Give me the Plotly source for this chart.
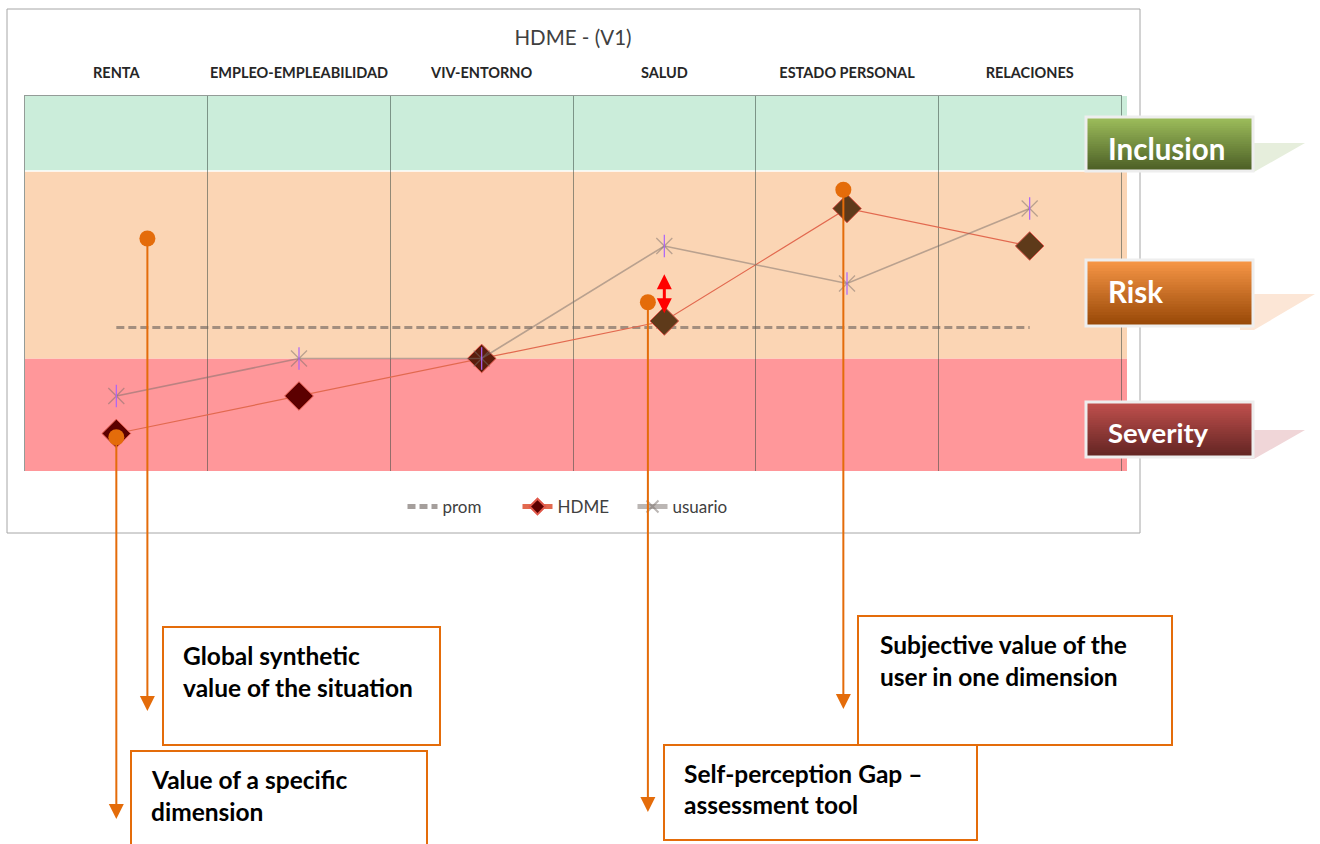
import plotly.graph_objects as go

# ---------------- data ----------------
categories = ["RENTA", "EMPLEO-EMPLEABILIDAD", "VIV-ENTORNO", "SALUD",
              "ESTADO PERSONAL", "RELACIONES"]
hdme = [10, 20, 30, 40, 70, 60]
usuario = [20, 30, 30, 60, 50, 70]
prom = [38.3] * 6

# zone limits on the 0-100 scale
zone_names = ["Severity", "Risk", "Inclusion"]
zone_low = [0, 30, 80]
zone_high = [30, 80, 100]

# callout pointers: (category position, score)
pointer_x = [0.17, 0.0, 2.91, 3.98]
pointer_y = [62, 9, 45, 75]

# self-perception gap arrow at SALUD
gap_x = 3
gap_top = 52.5
gap_bottom = 42.1

# ---------------- layout geometry (pixels) ----------------
W, H = 1320, 844
L, T, PW, PH = 25, 96, 1096, 375
X_RANGE = [-0.5, 5.5]
Y_RANGE = [0, 100]
UX = PW / (X_RANGE[1] - X_RANGE[0])   # pixels per category step
UY = PH / (Y_RANGE[1] - Y_RANGE[0])   # pixels per score unit


def px(x):
    return (x - L) / PW


def py(y):
    return (T + PH - y) / PH


def mix(c1, c2, t):
    a = [int(c1[i:i + 2], 16) for i in (1, 3, 5)]
    b = [int(c2[i:i + 2], 16) for i in (1, 3, 5)]
    return "rgb(%d,%d,%d)" % tuple(round(a[k] + (b[k] - a[k]) * t) for k in range(3))


ORANGE = "#e46c0a"
GRID = "rgba(60,75,68,0.55)"
STAR = "rgba(140,70,135,0.7)"
zone_colors = ["#ff979a", "#fbd5b4", "#cbedda"]
marker_fill = ["#5c0000", "#5c0000", "#5a1c0c", "#5e3a1a", "#5e3a1a", "#5e3a1a"]

fig = go.Figure()

fig.add_trace(go.Scatter(
    x=list(range(len(categories))), y=prom, name="prom", mode="lines",
    line=dict(color="rgba(105,95,90,0.6)", width=3, dash="8px,4px")))

fig.add_trace(go.Scatter(
    x=list(range(len(categories))), y=hdme, name="HDME", mode="lines+markers",
    line=dict(color="#e2694f", width=1.2),
    marker=dict(symbol="diamond", size=22, color=marker_fill,
                line=dict(color="#e0584a", width=1))))

fig.add_trace(go.Scatter(
    x=list(range(len(categories))), y=usuario, name="usuario", mode="lines+markers",
    legendgroup="usuario",
    line=dict(color="rgba(120,110,105,0.5)", width=1.6),
    marker=dict(symbol="x-thin-open", size=16, line=dict(color=STAR, width=1.2))))
fig.add_trace(go.Scatter(
    x=list(range(len(categories))), y=usuario, mode="markers", showlegend=False,
    legendgroup="usuario", hoverinfo="skip",
    marker=dict(symbol="line-ns-open", size=16, line=dict(color=STAR, width=1.2))))

# orange callout pointers
fig.add_trace(go.Scatter(
    x=pointer_x, y=pointer_y, mode="markers", showlegend=False, hoverinfo="skip",
    marker=dict(size=16, color=ORANGE)))

shapes = []
# outer chart frame
shapes.append(dict(type="rect", xref="paper", yref="paper", layer="below",
                   x0=px(7), x1=px(1140), y0=py(533), y1=py(9),
                   line=dict(color="#a6a6a6", width=1), fillcolor="rgba(0,0,0,0)"))
# zone bands
for lo, hi, col in zip(zone_low, zone_high, zone_colors):
    shapes.append(dict(type="rect", xref="paper", yref="y", layer="below",
                       x0=0, x1=px(1127), y0=lo, y1=hi,
                       line=dict(width=0), fillcolor=col))
shapes.append(dict(type="line", xref="paper", yref="y", layer="below",
                   x0=0, x1=px(1127), y0=zone_low[2], y1=zone_low[2],
                   line=dict(color="white", width=1.5)))

# red double-headed gap arrow (heads 15 px, drawn in data units)
hw = 7.5 / UX
hh = 15 / UY
shapes.append(dict(type="line", xref="x", yref="y", layer="above",
                   x0=gap_x, x1=gap_x, y0=gap_bottom + hh - 1 / UY, y1=gap_top - hh + 1 / UY,
                   line=dict(color="#ff0000", width=3)))
for tip, base in ((gap_top, gap_top - hh), (gap_bottom, gap_bottom + hh)):
    shapes.append(dict(type="path", xref="x", yref="y", layer="above",
                       path="M %f,%f L %f,%f L %f,%f Z" % (gap_x, tip, gap_x - hw, base,
                                                           gap_x + hw, base),
                       fillcolor="#ff0000", line=dict(width=0)))

# zone badges on the right
badges = [
    ("Inclusion", (1086, 117, 1253, 171), "#9dbd5b", "#4c5f26", "#e6eedc",
     [(1240, 143), (1305, 143), (1254, 172), (1240, 172)], 29.5, 148),
    ("Risk", (1086, 260, 1253, 326), "#f79646", "#984807", "#fce6d6",
     [(1240, 294), (1315, 294), (1254, 330), (1240, 330)], 29.5, 291),
    ("Severity", (1086, 402, 1253, 457), "#c0504d", "#632523", "#f0d6d8",
     [(1240, 430), (1305, 430), (1254, 459), (1240, 459)], 27.5, 432),
]
annotations = []
for label, (bx0, by0, bx1, by1), c_top, c_bot, c_sh, pts, fs, ty in badges:
    path = "M " + " L ".join("%f,%f" % (px(a), py(b)) for a, b in pts) + " Z"
    shapes.append(dict(type="path", xref="paper", yref="paper", path=path,
                       fillcolor=c_sh, line=dict(width=0), layer="above"))
    n = 24
    step = (by1 - by0) / n
    for k in range(n):
        # each strip runs to the bottom edge so consecutive strips overlap without seams
        shapes.append(dict(type="rect", xref="paper", yref="paper", layer="above",
                           x0=px(bx0), x1=px(bx1),
                           y0=py(by1), y1=py(by0 + k * step),
                           line=dict(width=0), fillcolor=mix(c_top, c_bot, k / (n - 1))))
    shapes.append(dict(type="rect", xref="paper", yref="paper", layer="above",
                       x0=px(bx0), x1=px(bx1), y0=py(by1), y1=py(by0),
                       line=dict(color="#eeeeee", width=3), fillcolor="rgba(0,0,0,0)"))
    annotations.append(dict(xref="paper", yref="paper", x=px(1106), y=py(ty),
                            xanchor="left", yanchor="middle", showarrow=False,
                            text=label,
                            font=dict(family="Lato", size=fs, color="white", weight="bold")))

# callout boxes and texts
boxes = [(163, 627, 440, 745), (131, 751, 427, 852),
         (858, 616, 1172, 745), (664, 745, 977, 840)]
for bx0, by0, bx1, by1 in boxes:
    shapes.append(dict(type="rect", xref="paper", yref="paper", layer="above",
                       x0=px(bx0), x1=px(bx1), y0=py(by1), y1=py(by0),
                       line=dict(color=ORANGE, width=2), fillcolor="white"))

callout_lines = [
    ("Global synthetic", 181, 655), ("value of the situation", 181, 687),
    ("Value of a specific", 149, 779), ("dimension", 149, 811),
    ("Subjective value of the", 878, 644), ("user in one dimension", 878, 676),
    ("Self-perception Gap \u2013", 682, 773), ("assessment tool", 682, 804),
]
for txt, tx, ty in callout_lines:
    annotations.append(dict(xref="paper", yref="paper", x=px(tx), y=py(ty),
                            xanchor="left", yanchor="middle", showarrow=False,
                            text=txt,
                            font=dict(family="Lato", size=24.5, color="black", weight="bold")))

# vertical pointer arrows
arrow_tips = [714, 822, 815, 712]
for xv, yv, tip in zip(pointer_x, pointer_y, arrow_tips):
    dot_px = T + PH - (yv - Y_RANGE[0]) * UY
    annotations.append(dict(xref="x", yref="paper", x=xv, y=py(tip - 3),
                            ax=0, ay=-(tip - 3 - dot_px), text="", showarrow=True,
                            arrowhead=2, arrowsize=1.5, arrowwidth=2, arrowcolor=ORANGE))

fig.update_layout(
    width=W, height=H,
    margin=dict(l=L, r=W - L - PW, t=T, b=H - T - PH),
    paper_bgcolor="white", plot_bgcolor="rgba(0,0,0,0)",
    font=dict(family="Lato", color="#404040"),
    title=dict(text="HDME - (V1)", xref="container", yref="container",
               x=573 / W, xanchor="center", y=1 - 38 / H, yanchor="middle",
               font=dict(size=20.5, color="#404040")),
    xaxis=dict(range=X_RANGE, side="top", tickmode="array",
               tickvals=list(range(len(categories))), ticktext=categories,
               showgrid=False, zeroline=False, ticks="", ticklabelstandoff=11,
               tickfont=dict(size=14.5, color="#262626", weight="bold"),
               showline=True, linecolor=GRID, linewidth=1,
               minor=dict(tickmode="array", tickvals=[0.5, 1.5, 2.5, 3.5, 4.5],
                          showgrid=True, gridcolor=GRID, gridwidth=1, ticks="")),
    yaxis=dict(range=Y_RANGE, showticklabels=False, showgrid=False,
               zeroline=False, ticks="", showline=True, mirror=True,
               linecolor=GRID, linewidth=1),
    legend=dict(orientation="h", x=px(575), xanchor="center", y=py(507),
                yanchor="middle", font=dict(size=17, color="#404040"),
                entrywidth=70, entrywidthmode="pixels",
                itemsizing="constant", bgcolor="rgba(0,0,0,0)"),
    shapes=shapes,
    annotations=annotations,
    hovermode=False,
)

fig.write_html("out.html")
